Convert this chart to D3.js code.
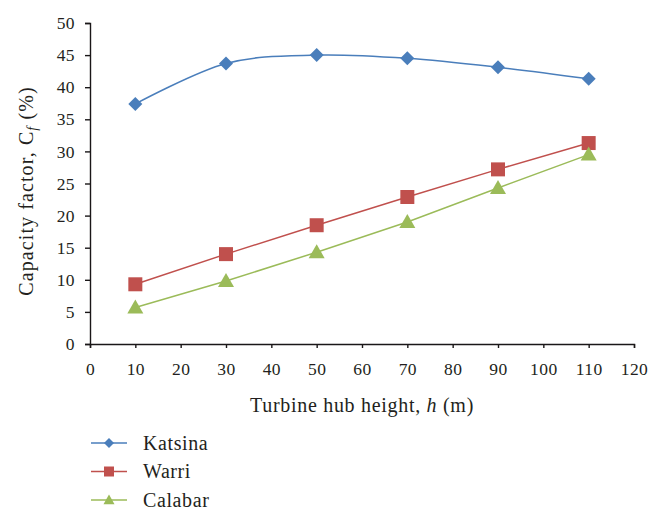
<!DOCTYPE html>
<html><head><meta charset="utf-8">
<script src="https://cdn.jsdelivr.net/npm/d3@7"></script>
<style>body{margin:0;background:#fff}svg{display:block}text{font-family:"Liberation Serif","DejaVu Serif",serif;fill:#231f20}</style>
</head><body>
<svg id="c" width="664" height="520"></svg>
<script>
const heights = [10, 30, 50, 70, 90, 110];
const katsina = [37.4, 43.7, 45.0, 44.5, 43.1, 41.3];
const warri = [9.3, 14.0, 18.5, 22.9, 27.2, 31.3];
const calabar = [5.7, 9.8, 14.3, 19.0, 24.3, 29.5];
const xTicks = [0,10,20,30,40,50,60,70,80,90,100,110,120];
const yTicks = [0,5,10,15,20,25,30,35,40,45,50];
const seriesNames = ["Katsina", "Warri", "Calabar"];
const colors = ["#4a7ebb", "#c0504d", "#9bbb59"];

const svg = d3.select("#c");
const x = d3.scaleLinear().domain([0,120]).range([90,634]);
const y = d3.scaleLinear().domain([0,50]).range([344,23]);

const ax = "#1a1718";
const gx = svg.append("g").attr("transform","translate(0,344)")
  .call(d3.axisBottom(x).tickValues(xTicks).tickSizeOuter(4).tickSize(4).tickPadding(15));
const gy = svg.append("g").attr("transform","translate(90,0)")
  .call(d3.axisLeft(y).tickValues(yTicks).tickSize(5).tickSizeOuter(5).tickPadding(10));
[gx,gy].forEach(g=>{
  g.attr("font-size",null).attr("font-family",null);
  g.selectAll("path,line").attr("stroke",ax).attr("stroke-width",1.4);
  g.selectAll("text").attr("fill",ax).style("font-size","17.5px").style("letter-spacing","0.4px");
});
gx.selectAll("text").attr("dy","0.71em");

// marker shapes: diamond is a square rotated 45deg
function marker(sel, i, s){
  if(i===0){
    const h = s/2;
    sel.attr("d", `M0,${-h}L${h},0L0,${h}L${-h},0Z`);
  } else if(i===1){
    const h = s/2;
    sel.attr("d", `M${-h},${-h}H${h}V${h}H${-h}Z`);
  } else {
    const h = s/2 + 0.5;
    sel.attr("d", `M0,${-h}L${h},${h*0.75}L${-h},${h*0.75}Z`);
  }
}

const data = [katsina, warri, calabar];
data.forEach((vals,i)=>{
  const pts = heights.map((h,j)=>[h, vals[j]]);
  const line = d3.line().x(d=>x(d[0])).y(d=>y(d[1]))
    .curve(i===0 ? d3.curveCatmullRom.alpha(0) : d3.curveLinear);
  svg.append("path").datum(pts).attr("d",line).attr("fill","none")
    .attr("stroke",colors[i]).attr("stroke-width",1.5);
  svg.append("g").selectAll("path").data(pts).join("path")
    .attr("transform",d=>`translate(${x(d[0])},${y(d[1])})`)
    .call(s=>marker(s,i,[14,14,15][i]))
    .attr("fill",colors[i]);
});

// y title
const yt = svg.append("text").attr("transform","translate(33,191) rotate(-90)")
  .attr("text-anchor","middle").style("font-size","20px").style("letter-spacing","1.1px");
yt.append("tspan").text("Capacity factor, ");
yt.append("tspan").text("C");
yt.append("tspan").attr("font-style","italic").style("font-size","14px").attr("dy",4).text("f");
yt.append("tspan").attr("dy",-4).text(" (%)");

// x title
const xt = svg.append("text").attr("x",362).attr("y",412).attr("text-anchor","middle")
  .style("font-size","20px").style("letter-spacing","0.7px");
xt.append("tspan").text("Turbine hub height, ");
xt.append("tspan").attr("font-style","italic").text("h");
xt.append("tspan").text(" (m)");

// legend
const lg = svg.append("g");
seriesNames.forEach((n,i)=>{
  const cy = 443 + i*28.5;
  lg.append("line").attr("x1",91).attr("x2",127).attr("y1",cy).attr("y2",cy)
    .attr("stroke",colors[i]).attr("stroke-width",1.5);
  lg.append("path").attr("transform",`translate(109,${cy})`)
    .call(s=>marker(s,i,10)).attr("fill",colors[i]);
  lg.append("text").attr("x",143).attr("y",cy+6.5).style("font-size","20px").style("letter-spacing","0.6px").text(n);
});
</script>
</body></html>
